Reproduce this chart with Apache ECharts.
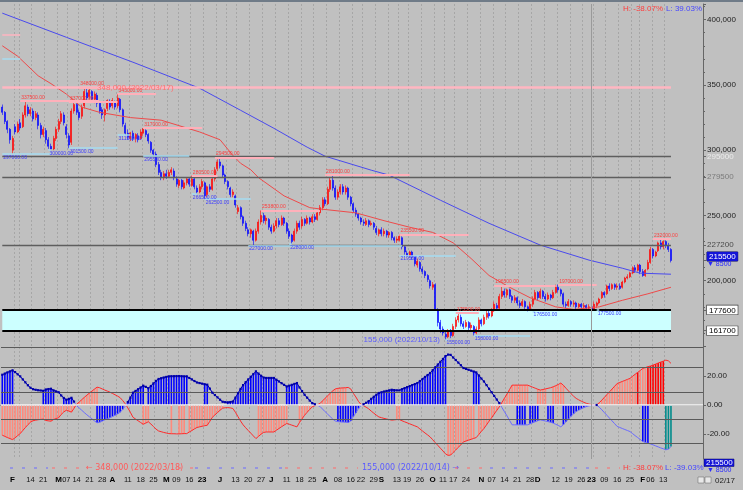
<!DOCTYPE html>
<html><head><meta charset="utf-8">
<script src="https://cdn.jsdelivr.net/npm/echarts@6/dist/echarts.min.js"></script>
<style>html,body{margin:0;padding:0;background:#c0c0c0;}#c{width:743px;height:490px;}</style>
</head><body><div id="c"></div>
<script>
// ---------------- DATA ----------------
const holidays = ['2022-01-31','2022-02-01','2022-02-02','2022-03-01','2022-03-09','2022-05-05','2022-06-01','2022-06-06','2022-08-15','2022-09-09','2022-09-12','2022-10-03','2022-10-10','2022-12-30','2023-01-23','2023-01-24'];
const nCandles = 262;
const nSlots = 274;

// prices in thousands of KRW
const opens = [333,329,322,316,300,318,314,321,318,327, 333,328,330,325,327,319,312,315,308,303, 301,309,316,322,327,318,311,306,330,335,
 329,326,334,344,341,345,339,342,336,331, 327,332,337,334,337,334,339,331,319,313, 309,313,309,311,309,313,315,312,306,300,
 297,289,283,279,282,280,283,284,278,273, 277,271,275,278,273,278,271,268,272,275, 266,272,270,278,286,291,288,281,276,271,
 266,265,253,256,249,244,239,236,238,231, 238,245,250,246,247,241,238,242,246,243, 248,244,238,235,231,238,244,242,247,244,
 248,245,249,247,252,256,262,259,270,277, 271,264,268,272,268,271,264,259,254,251, 248,245,243,246,243,244,240,236,239,236,
 238,235,237,233,231,231,233,226,221,219, 222,218,212,214,209,207,204,200,195,197, 177,168,163,159,157,161,158,165,170,172,
 167,165,168,164,165,160,163,170,167,172, 175,173,177,181,179,188,192,189,193,188, 185,187,183,181,184,180,178,182,186,191,
 187,192,188,186,189,187,191,195,193,190, 182,181,184,182,183,180,182,180,181,179, 180,178,181,183,187,191,190,196,194,197,
 195,196,195,199,202,203,206,210,208,212, 207,204,209,214,224,219,223,229,226,230, 227,224];
const closes = [329,322,316,308,309,314,320,317,327,334, 328,331,324,328,319,312,316,308,303,301, 309,316,322,328,321,312,304,330,335,329,
 325,333,345,340,346,339,343,336,330,327, 331,338,333,338,333,340,331,320,313,310, 313,309,312,308,314,316,312,307,300,297,
 289,283,279,282,280,283,285,279,274,277, 272,275,278,274,278,272,268,272,276,265, 272,270,278,285,291,288,281,276,272,266,
 268,258,256,249,244,240,236,239,231,238, 245,250,246,248,241,238,242,246,243,248, 244,238,234,230,238,244,241,247,244,248,
 245,249,247,252,256,262,259,270,277,271, 264,268,272,268,271,264,259,254,251,248, 245,244,246,243,244,241,237,239,236,238,
 235,237,233,231,232,234,226,222,219.5,222, 218,213,215,209,207,204,201,196,197,178, 168,163,160,157,161,158,165,170,173,167,
 165,168,164,166,160,163,170,167,172,175, 173,177,182,179,188,192,189,193,188,185, 187,183,181,184,180,178,182,186,191,187,
 192,188,186,189,187,191,195,193,190,182, 181,184,182,183,180,182,180,181,179,180, 178,182,183,186,191,189,196,194,197,195,
 196,194,199,202,203,206,210,208,212,207, 204,208,214,224,219,222,229,226,230,227, 224,215.5];
const lows = [327,320,313,305,297,312,313,315,317,325, 326,326,322,323,316,309,310,305,301,300, 300,307,314,320,319,309,301.5,304,328,327,
 323,324,332,338,339,337,336,333,328,324, 322,330,331,332,331,332,329,318,311.5,308, 307,307,306,306,308,311,310,305,298,295.5,
 287,281,277,277,278,279,281,277,272,271, 270,270,273,272,272,270,266.5,267,270,262.5, 264,268,269,276,284,286,279,274,270,264,
 264,256,251,247,242,238,234,233,227,230, 236,243,244,243,239,236,237,240,241,242, 242,236,232,228,230,236,239,240,242,243,
 243,244,245,246,250,254,257,258,268,269, 262,262,266,266,266,262,257,252,249,246, 243,242,242,241,242,239,235,234,234,234,
 233,233,231,229,229,230,224,220,219.5,218, 216,211,210,207,205,202,199,194,193,177, 165,160,158,155,156,156,157,163,168,165,
 163,164,162,162,158,159,162,165,166,170, 171,172,176,177,178,186,187,187,186,183, 183,181,179,180,178,176.5,177,180,185,185,
 186,186,184,185,185,186,190,191,188,180, 179,180,180,180,178,179,178,178,178,177.5, 177.5,177.5,179,182,186,187,189,192,193,193,
 193,193,194,198,201,202,205,206,207,205, 203,203,208,213,217,218,222,224,224,225, 222,214];
const highs = [335,330,323,317,311,320,322,324,329,337.5, 335,333,332,330,329,321,318,317,310,305, 311,318,324,330,329,320,313,332,337,336,
 331,335,347,348,347,346,345,344,338,333, 332,339,339,340,338,343,340,332,321,316, 314,315,313,313,316,317,316,313,307,301,
 299,291,285,284,285,285,287,286,280,278, 278,277,279,279,280.5,279,273,274,278,276, 273,274,280,287,293,294.5,289,282,277,272,
 270,266,258,257,250,246,241,240,239,240, 247,253.8,252,250,248,243,244,248,248,250, 249,245,240,236,240,246,246,249,248,250,
 249,251,251,254,258,264,264,272,279,281, 273,270,274,274,273,272,265,260,256,252, 249,247,248,247,246,245,242,240,241,240,
 239,238,238,234,234,235.5,234,227,223,223, 223,219,217,215,211,208,205,201,199,198, 179,170,165,161,163,163,167,172,175.5,174,
 169,170,169,168,166,165,172,171,174,177, 177,179,184,183,190,196.5,194,194,194,189, 189,188,185,186,185,181,184,188,193,192,
 194,193,190,191,190,193,197,197,194,191, 184,186,185,185,184,183,183,183,182,182, 181,184,184,187,192,192,197,198,198,198,
 198,198,200,203,205,207,211,212,213,213, 209,209,216,226,225,223,230,232,231,231, 229,225];

// moving averages read at sample days: [day index, thousands KRW]
const maShort = [[0,380],[6,372],[14,357],[19,351],[25,343],[31,333],[38,329],[50,325],[62,323],[77,314],[85,308],[90,296],[93,290],[97,285],[100,279],[110,265],[120,256],[124,255],[138,252],[149,246],[159,241],[168,237],[176,229],[183,217],[190,204],[198,195],[206,187],[216,180],[223,178],[233,180],[242,185],[252,190],[261,195]];
const maLong = [[0,405],[25,386.5],[51,367.4],[77,347.5],[93,330.6],[106,316.8],[119,302.3],[126,295.4],[144,284.7],[151,280.9],[171,261.7],[190,244],[210,227.3],[229,215.8],[242,209.6],[249,205.8],[261,205]];

// oscillator (blue line); red line is its mirror
const oscBlue = [20.7,21.5,22.3,23.0,23.7,22.5,21.0,19.6,17.5,15.5,
13.5,11.8,10.8,10.4,10.1,9.9,9.7,10.6,10.9,11.1,
10.0,9.3,8.7,6.5,4.8,3.6,4.2,4.9,2.3,-0.5,
-2.0,-3.6,-5.2,-6.7,-8.1,-9.5,-10.9,-12.2,-11.8,-11.0,
-10.2,-9.5,-8.8,-7.9,-7.0,-6.1,-5.0,-3.0,-0.8,2.0,
5.0,8.4,9.6,10.8,12.0,13.2,12.4,11.5,13.0,14.8,
16.5,17.8,18.3,18.8,19.2,19.6,19.7,19.7,19.8,19.8,
19.7,19.6,19.6,18.5,17.5,16.4,15.4,15.0,14.6,14.2,
13.9,11.2,8.4,6.8,5.2,3.6,2.2,1.9,1.8,2.0,
2.4,5.0,8.0,11.0,13.6,15.6,17.5,19.3,21.2,23.0,
21.5,20.0,18.8,18.5,18.5,18.5,18.5,17.3,16.1,14.9,
13.8,12.7,13.2,13.8,14.4,15.0,12.0,9.5,7.0,5.0,
3.0,1.3,0.5,-0.2,-1.0,-2.8,-4.6,-6.3,-8.0,-9.7,
-11.0,-11.4,-11.6,-11.7,-11.8,-12.0,-11.0,-8.0,-5.5,-2.5,
-0.4,0.5,1.5,2.6,4.2,5.6,7.0,8.2,8.7,9.2,
9.6,10.0,10.4,10.2,10.0,10.0,10.8,11.5,12.2,12.9,
13.6,14.3,15.0,16.4,17.8,19.2,20.5,21.9,23.8,25.8,
27.7,29.6,31.5,33.5,34.5,34.3,32.5,30.8,29.0,27.2,
25.3,24.7,24.1,23.5,22.9,22.3,20.2,18.1,16.1,13.6,
11.1,8.7,6.2,3.7,1.3,-1.7,-4.6,-7.5,-10.6,-13.6,
-13.6,-13.6,-13.6,-13.6,-13.6,-13.6,-12.9,-12.2,-11.5,-10.8,
-10.2,-10.6,-11.0,-11.4,-11.8,-12.4,-13.2,-14.0,-15.0,-13.5,
-11.5,-9.6,-7.7,-6.0,-4.5,-3.5,-2.6,-1.8,-1.1,-0.6,
-0.3,-0.1,0.0,-1.5,-3.3,-5.2,-7.1,-9.0,-10.9,-12.8,
-14.7,-15.4,-16.1,-16.8,-17.5,-18.2,-19.6,-21.0,-22.3,-23.6,
-25.0,-25.6,-26.2,-26.7,-27.3,-28.0,-28.7,-29.4,-30.0,-30.7,
-30.2,-28.5];
const upperBarRanges = [[0,4],[16,20],[24,27],[30,37],[49,55],[57,72],[79,80],[88,107],[111,115],[121,134],[143,153],[156,173],[184,186],[195,205],[209,212],[215,219],[233,258]];
const lowerBarRanges = [[0,29],[37,47],[55,57],[66,66],[69,71],[73,86],[100,111],[116,121],[131,141],[154,155],[174,184],[186,194],[201,204],[206,209],[213,215],[219,232],[250,252],[259,261]];
const brightRedDays = [248,252,253,254,255,256,257,258];
const tealDays = [259,260,261];
const oscLevels = [39.5, 26, 9, -9.5, -26];

// price levels
const grayLevels = [295000, 279500, 227200];
const zoneLevels = [177600, 161700];
const peakLevel = 348000;
const prevPeriodLevels = [[388800,'#ffb4c0'],[370400,'#a8dcf0']];
const rightMarks = [295000, 279500, 227200, 215500, 177600, 161700];
const highMarks = [[337500,7,38],[337000,26,45],[348000,30,37],[343000,45,60],[317000,55,78],[294500,83,106],[280500,74,84],[253800,101,124],[281000,126,159],[235500,155,182],[175500,177,186],[196500,192,216],[197000,217,232],[232000,254,261]];
const lowMarks = [[297000,0,19],[300000,18,19],[301500,26,45],[311500,45,50],[295500,55,73],[266500,74,76],[262500,79,97],[227000,96,156],[228000,112,113],[219500,155,177],[155000,173,174],[158000,184,206],[176500,207,208],[177500,232,233]];

const tickLabels = [['2022-02-03','F'],['2022-02-14','14'],['2022-02-21','21'],['2022-03-02','M'],['2022-03-07','07'],['2022-03-14','14'],['2022-03-21','21'],['2022-03-28','28'],['2022-04-01','A'],['2022-04-11','11'],['2022-04-18','18'],['2022-04-25','25'],['2022-05-02','M'],['2022-05-09','09'],['2022-05-16','16'],['2022-05-23','23'],['2022-06-02','J'],['2022-06-13','13'],['2022-06-20','20'],['2022-06-27','27'],['2022-07-01','J'],['2022-07-11','11'],['2022-07-18','18'],['2022-07-25','25'],['2022-08-01','A'],['2022-08-08','08'],['2022-08-16','16'],['2022-08-22','22'],['2022-08-29','29'],['2022-09-01','S'],['2022-09-13','13'],['2022-09-19','19'],['2022-09-26','26'],['2022-10-04','O'],['2022-10-11','11'],['2022-10-17','17'],['2022-10-24','24'],['2022-11-01','N'],['2022-11-07','07'],['2022-11-14','14'],['2022-11-21','21'],['2022-11-28','28'],['2022-12-01','D'],['2022-12-12','12'],['2022-12-19','19'],['2022-12-26','26'],['2023-01-02','23'],['2023-01-09','09'],['2023-01-16','16'],['2023-01-25','25'],['2023-02-01','F'],['2023-02-06','06'],['2023-02-13','13']];
const boldLabels = ['F','M','A','J','S','O','N','D','23'];

// ---------------- BUILD ----------------
const FONT = 'Liberation Sans, DejaVu Sans, sans-serif';
const dates = [];
(function(){
  let t = Date.UTC(2022,0,25);
  while (dates.length < nSlots) {
    const d = new Date(t); const dow = d.getUTCDay(); const s = d.toISOString().slice(0,10);
    if (dow !== 0 && dow !== 6 && holidays.indexOf(s) < 0) dates.push(s);
    t += 86400000;
  }
})();
const dow = s => new Date(s + 'T00:00:00Z').getUTCDay();
const weekStart = dates.map((s,i) => i > 0 && i < nCandles && dow(s) < dow(dates[i-1]));
const labelMap = {}; tickLabels.forEach(p => labelMap[p[0]] = p[1]);
const yearStart = dates.indexOf('2023-01-02');

const candleData = opens.map((o,i) => [o*1000, closes[i]*1000, lows[i]*1000, highs[i]*1000]);
const maShortData = maShort.map(p => [dates[p[0]], p[1]*1000]);
const maLongData = maLong.map(p => [dates[p[0]], p[1]*1000]);
const inR = (i, rs) => rs.some(r => i >= r[0] && i <= r[1]);
const BLUE = '#0000ff', SALMON = '#ff8a7c';
const upperData = oscBlue.map((a,i) => inR(i, upperBarRanges) ? {value: Math.abs(a), itemStyle:{color: brightRedDays.indexOf(i)>=0 ? '#ff0000' : (a >= 0 ? BLUE : SALMON)}} : '-');
const lowerData = oscBlue.map((a,i) => inR(i, lowerBarRanges) ? {value: -Math.abs(a), itemStyle:{color: tealDays.indexOf(i)>=0 ? '#008c8c' : (a >= 0 ? SALMON : BLUE)}} : '-');
const oscRed = oscBlue.map(v => -v);
const oscBluePos = oscBlue.map(v => v >= 0 ? v : '-');

const seg = (v, a, b, color, width, label) => [
  {coord:[dates[a], v], lineStyle:{color, width, type:'solid'}, label: label || {show:false}},
  {coord:[dates[b], v]}
];
const markLines = [];
prevPeriodLevels.forEach(p => markLines.push(seg(p[0], 0, 7, p[1], 1.5)));
markLines.push(seg(peakLevel, 0, nCandles-1, '#ffb6c1', 2.5));
grayLevels.forEach(v => markLines.push(seg(v, 0, nCandles-1, '#5e5e5e', 1.3)));
zoneLevels.forEach(v => markLines.push(seg(v, 0, nCandles-1, '#000000', 2)));
highMarks.forEach(m => markLines.push(seg(m[0], m[1], m[2], '#ffb0ba', 2,
  {show:true, position:'insideStartTop', distance:1, formatter: m[0].toFixed(2), color:'#ff3c3c', fontSize:5, fontFamily:FONT})));
lowMarks.forEach(m => markLines.push(seg(m[0], m[1], m[2], '#a6dcf2', 1.5,
  {show:true, position:'insideStartBottom', distance:1, formatter: m[0].toFixed(2), color:'#3c3cff', fontSize:5, fontFamily:FONT})));
markLines.push({xAxis: dates[yearStart], lineStyle:{color:'#9a9a9a', width:1, type:'solid'}, label:{show:false}});

const oscMarkLines = oscLevels.map(v => ({yAxis: v, lineStyle:{color:'#5a5a5a', width:1.2, type:'solid'}, label:{show:false}}));
oscMarkLines.push({yAxis: 0, lineStyle:{color:'#f4f4f4', width:1.5, type:'solid'}, label:{show:false}});
oscMarkLines.push({xAxis: dates[yearStart], lineStyle:{color:'#9a9a9a', width:1, type:'solid'}, label:{show:false}});

const splitStyle = {show:true, interval:(i) => !!weekStart[i-1], lineStyle:{color:'#a6a6a6', width:1, type:[2,2]}};

const dashSegs = [[10,48,'#6a6aff'],[52,84,'#ff6a6a'],[178,195,'#ff6a6a'],[195,285,'#6a6aff'],[285,358,'#ff6a6a'],[455,490,'#ff6a6a'],[490,595,'#6a6aff'],[595,620,'#ff6a6a']];
const graphics = [
  {type:'rect', shape:{x:0,y:0,width:743,height:2}, style:{fill:'#6f7b88'}, silent:true},
  {type:'text', x:623, y:9, style:{text:'H: -38.07%', fill:'#ff3c3c', font:'8px '+FONT, verticalAlign:'middle'}},
  {type:'text', x:666, y:9, style:{text:'L: 39.03%', fill:'#4646ff', font:'8px '+FONT, verticalAlign:'middle'}},
  {type:'text', x:86, y:468, style:{text:'← 348,000 (2022/03/18)', fill:'#ff5a5a', font:'8px DejaVu Sans, sans-serif', verticalAlign:'middle'}},
  {type:'text', x:362, y:468, style:{text:'155,000 (2022/10/14) →', fill:'#5a5aff', font:'8px DejaVu Sans, sans-serif', verticalAlign:'middle'}},
  {type:'text', x:623, y:468, style:{text:'H: -38.07%', fill:'#ff3c3c', font:'8px '+FONT, verticalAlign:'middle'}},
  {type:'text', x:665, y:468, style:{text:'L: -39.03%', fill:'#4646ff', font:'8px '+FONT, verticalAlign:'middle'}},
  {type:'rect', shape:{x:704,y:459,width:30,height:7.5}, style:{fill:'#1414d8', stroke:'#000060', lineWidth:0.5}},
  {type:'text', x:706, y:462.8, style:{text:'215500', fill:'#ffffff', font:'8px '+FONT, verticalAlign:'middle'}},
  {type:'text', x:707, y:470.5, style:{text:'▼ 8500', fill:'#2828ff', font:'7px '+FONT, verticalAlign:'middle'}},
  {type:'text', x:715, y:481, style:{text:'02/17', fill:'#222222', font:'8px '+FONT, verticalAlign:'middle'}},
  {type:'rect', shape:{x:698,y:477,width:6,height:6}, style:{fill:'#e8e8e8', stroke:'#606060', lineWidth:0.5}},
  {type:'rect', shape:{x:705,y:477,width:6,height:6}, style:{fill:'#e8e8e8', stroke:'#606060', lineWidth:0.5}}
];
dashSegs.forEach(s => graphics.push({type:'line', shape:{x1:s[0],y1:468,x2:s[1],y2:468}, style:{stroke:s[2], lineWidth:1, lineDash:[3,9]}, silent:true}));

const chart = echarts.init(document.getElementById('c'), null, {renderer:'canvas'});
chart.setOption({
  animation:false,
  backgroundColor:'#c0c0c0',
  textStyle:{fontFamily:FONT},
  grid:[
    {left:1, right:40, top:4, height:342, outerBoundsMode:'none', containLabel:false},
    {left:1, right:40, top:347, height:112, outerBoundsMode:'none', containLabel:false}
  ],
  xAxis:[
    {type:'category', gridIndex:0, data:dates, boundaryGap:true, axisLine:{show:false}, axisTick:{show:false}, axisLabel:{show:false}, splitLine:splitStyle},
    {type:'category', gridIndex:1, data:dates, boundaryGap:true, axisLine:{show:true, lineStyle:{color:'#5a5a5a'}}, axisTick:{show:false},
     axisLabel:{show:true, interval:(i,v) => labelMap[v] !== undefined, margin:17, fontSize:7.5, color:'#111', fontFamily:FONT,
       formatter: v => { const t = labelMap[v]; if (!t) return ''; return boldLabels.indexOf(t) >= 0 ? '{b|'+t+'}' : t; },
       rich:{b:{fontWeight:'bold', fontSize:8, color:'#000', fontFamily:FONT}}},
     splitLine:splitStyle}
  ],
  yAxis:[
    {type:'value', gridIndex:0, position:'right', min:150000, max:412000, interval:50000,
     axisLine:{show:true, lineStyle:{color:'#666'}}, axisTick:{show:true, length:3, lineStyle:{color:'#666'}},
     minorTick:{show:true, splitNumber:5, length:2, lineStyle:{color:'#666'}}, splitLine:{show:false},
     axisLabel:{showMinLabel:false, showMaxLabel:false, fontSize:8, color:'#222', margin:4, fontFamily:FONT}},
    {type:'value', gridIndex:0, position:'right', min:150000, max:412000,
     axisLine:{show:false}, axisTick:{show:true, customValues:rightMarks, length:3, lineStyle:{color:'#666'}}, splitLine:{show:false},
     axisLabel:{customValues:rightMarks, margin:4, fontSize:8, fontFamily:FONT, lineHeight:8,
       formatter: v => {
         if (v === 295000) return '{faint|295000}';
         if (v === 279500) return '{gray|279500}';
         if (v === 227200) return '{dark|227200}';
         if (v === 215500) return '{cur|215500}\n{chg|▼ 8500}';
         return '{box|' + v + '}';
       },
       rich:{
         faint:{color:'#ececec', fontSize:8},
         gray:{color:'#7c7c7c', fontSize:8},
         dark:{color:'#4a4a4a', fontSize:8},
         cur:{color:'#ffffff', backgroundColor:'#1414d8', borderColor:'#000060', borderWidth:0.5, padding:[1,2,0,2], fontSize:8, lineHeight:8},
         chg:{color:'#2828ff', fontSize:7, lineHeight:8},
         box:{color:'#000', backgroundColor:'#ffffff', borderColor:'#303030', borderWidth:0.6, padding:[1,2,0,2], fontSize:8}
       }}},
    {type:'value', gridIndex:1, position:'right', min:-37, max:39.7,
     axisLine:{show:true, lineStyle:{color:'#666'}}, axisTick:{show:true, customValues:[-20,0,20], length:3, lineStyle:{color:'#666'}},
     splitLine:{show:false},
     axisLabel:{customValues:[-20,0,20], formatter: v => v.toFixed(2), fontSize:8, color:'#222', margin:4, fontFamily:FONT}}
  ],
  series:[
    {type:'candlestick', name:'price', xAxisIndex:0, yAxisIndex:0, data:candleData, barWidth:1.5,
     itemStyle:{color:'#ff0000', color0:'#0000ff', borderColor:'#ff0000', borderColor0:'#0000ff', borderWidth:0.6},
     markArea:{silent:true, itemStyle:{color:'#ccffff', opacity:1}, data:[[{coord:[dates[0], zoneLevels[1]]},{coord:[dates[nCandles-1], zoneLevels[0]]}]]},
     markLine:{silent:true, symbol:['none','none'], animation:false, data:markLines},
     markPoint:{silent:true, symbol:'circle', symbolSize:0, data:[
       {coord:[dates[37], 348000], label:{show:true, position:'right', distance:0, formatter:'348,000 (2022/03/17)', color:'#ff7070', fontSize:8, fontFamily:FONT}},
       {coord:[dates[141], 155000], label:{show:true, position:'right', distance:0, formatter:'155,000 (2022/10/13)', color:'#5c5cff', fontSize:8, fontFamily:FONT}}
     ]}},
    {type:'line', name:'MA short', xAxisIndex:0, yAxisIndex:0, data:maShortData, showSymbol:false, lineStyle:{color:'#ee4a4a', width:1}, z:3},
    {type:'line', name:'MA long', xAxisIndex:0, yAxisIndex:0, data:maLongData, showSymbol:false, lineStyle:{color:'#4a4aee', width:1}, z:3},
    {type:'bar', name:'upper', xAxisIndex:1, yAxisIndex:2, data:upperData, barWidth:1.6, barGap:'-100%',
     markLine:{silent:true, symbol:['none','none'], data:oscMarkLines}},
    {type:'bar', name:'lower', xAxisIndex:1, yAxisIndex:2, data:lowerData, barWidth:1.6, barGap:'-100%'},
    {type:'line', name:'red', xAxisIndex:1, yAxisIndex:2, data:oscRed, showSymbol:false, lineStyle:{color:'#ff2a2a', width:1}, z:4},
    {type:'line', name:'blue', xAxisIndex:1, yAxisIndex:2, data:oscBlue, showSymbol:false, lineStyle:{color:'#6a6aff', width:1}, z:4},
    {type:'line', name:'bluePos', xAxisIndex:1, yAxisIndex:2, data:oscBluePos, showSymbol:true, showAllSymbol:true, symbol:'rect', symbolSize:2.2,
     itemStyle:{color:'#0000a8'}, lineStyle:{color:'#0000a8', width:1}, z:5}
  ],
  graphic: graphics
});
</script></body></html>
